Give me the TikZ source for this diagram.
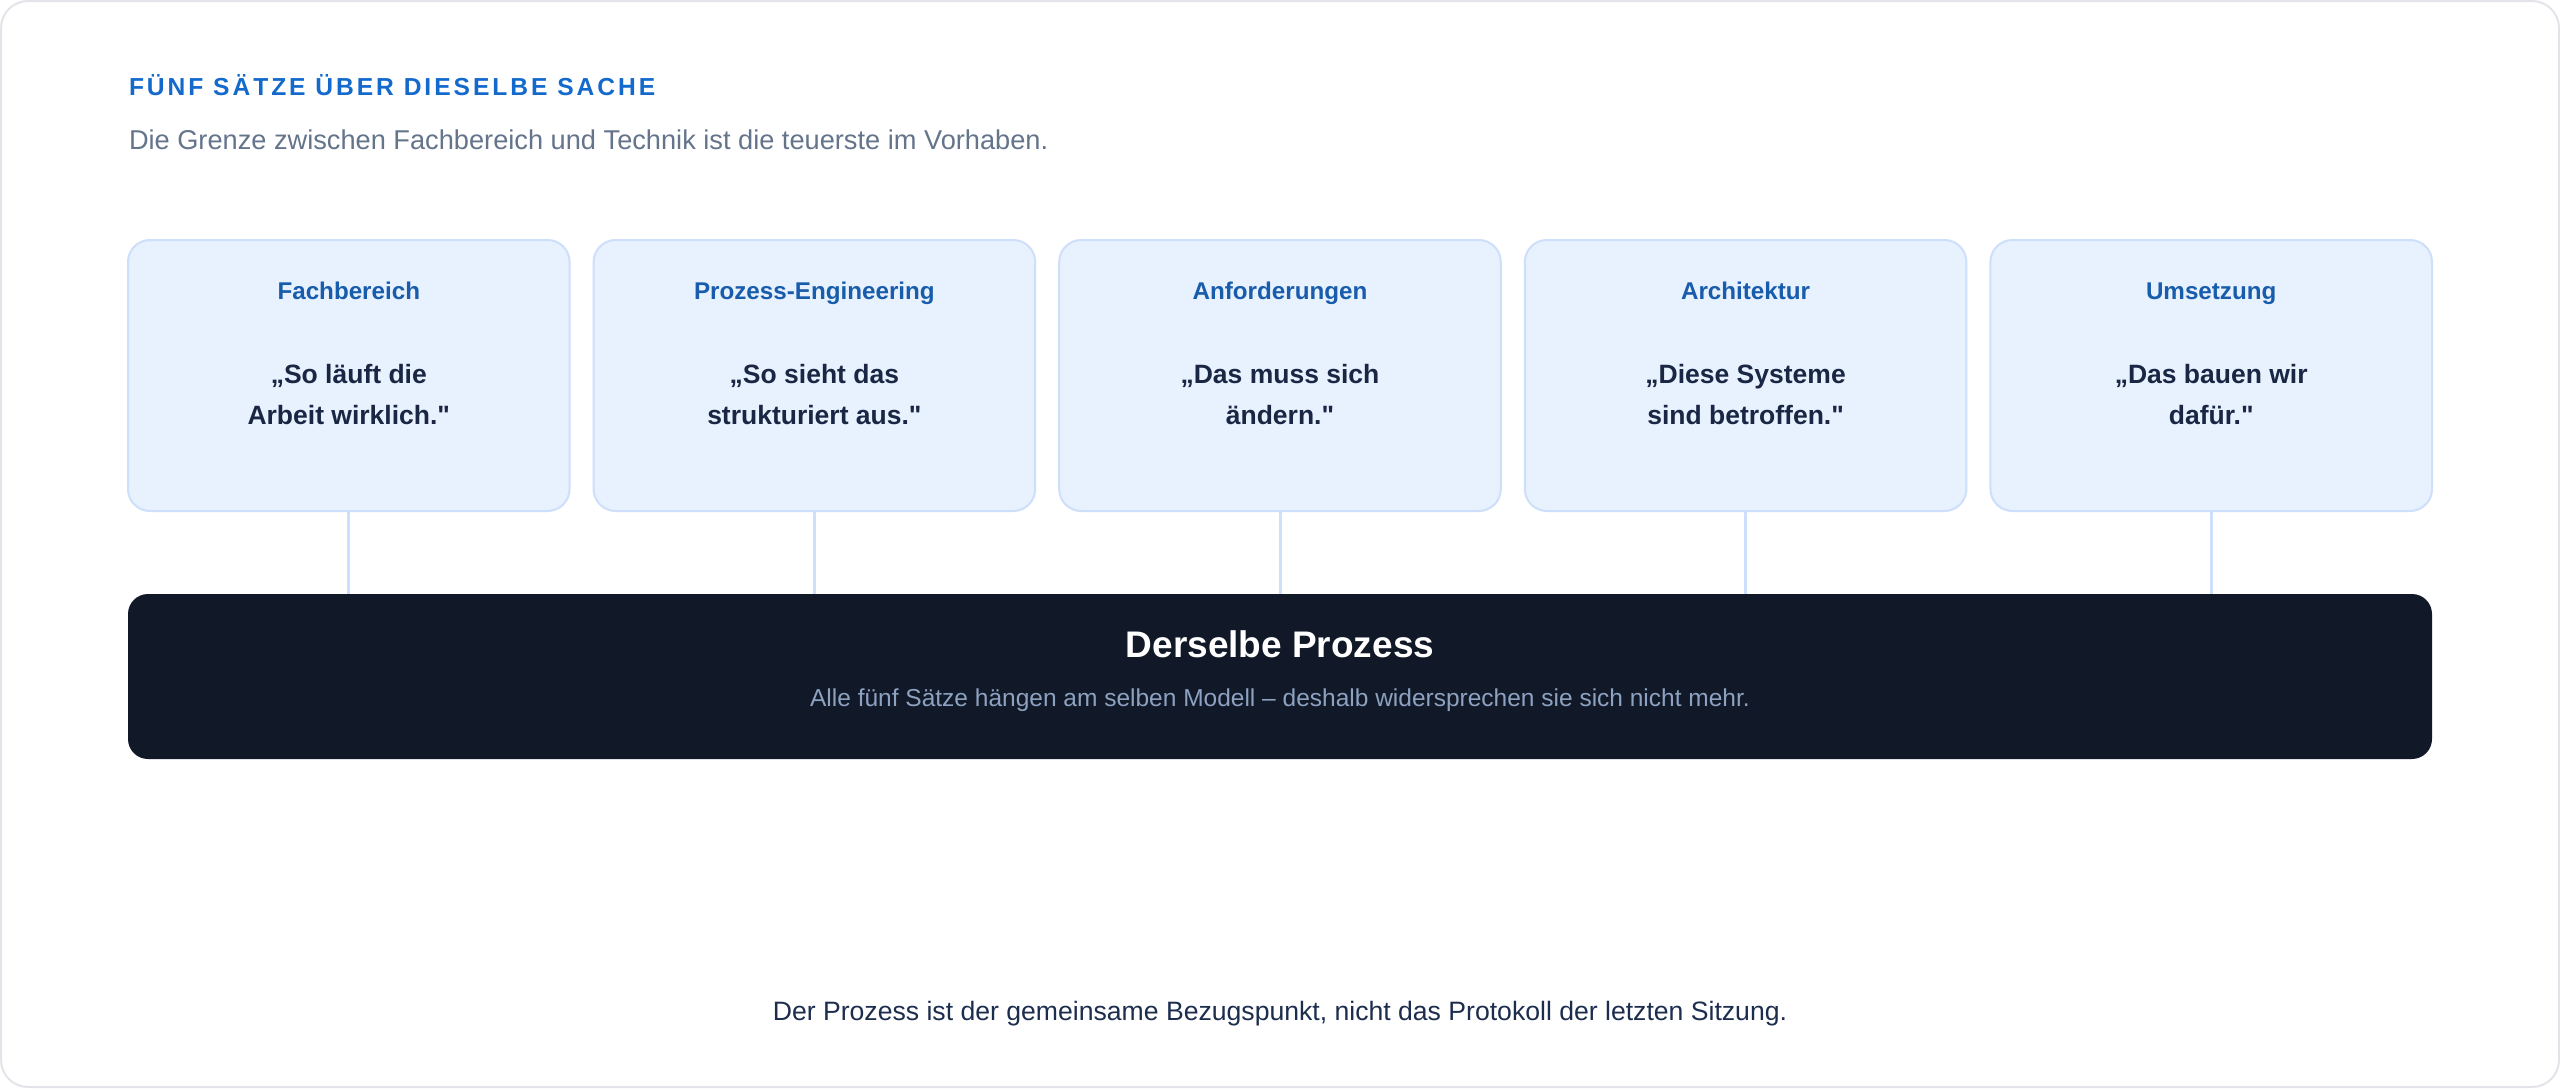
\documentclass[tikz,border=0pt]{standalone}
\usepackage{fontspec}
\setmainfont{Liberation Sans}[Ligatures=TeXOff]
\usetikzlibrary{calc}
\definecolor{framec}{RGB}{226,228,233}
\definecolor{kicker}{RGB}{20,106,204}
\definecolor{subc}{RGB}{100,116,139}
\definecolor{cardfill}{RGB}{232,241,254}
\definecolor{carddraw}{RGB}{205,223,250}
\definecolor{cardtitlec}{RGB}{24,92,172}
\definecolor{quotec}{RGB}{25,39,68}
\definecolor{mainfill}{RGB}{17,24,39}
\definecolor{mainsub}{RGB}{141,162,192}
\definecolor{footc}{RGB}{28,45,78}
\newcommand\qlines[2]{\vtop{\halign{\hfil##\hfil\cr#1\cr#2\cr}}}
\begin{document}
\begin{tikzpicture}[x=1pt,y=-1pt,
  txt/.style={inner sep=0pt,outer sep=0pt,anchor=base},
  cardbox/.style={draw=carddraw,fill=cardfill,line width=2pt,rounded corners=22pt,
    minimum width=441.6pt,minimum height=271pt,inner sep=0pt},
  mainbox/.style={fill=mainfill,rounded corners=20pt,minimum width=2304pt,
    minimum height=165pt,inner sep=0pt},
  conn/.style={draw=carddraw,line width=3pt},
  cardtitle/.style={txt,text=cardtitlec,font=\fontsize{24.2}{29}\selectfont\bfseries},
  quote/.style={txt,text=quotec,font=\fontsize{26.5}{41}\selectfont\bfseries}]
\useasboundingbox (0,0) rectangle (2560,1088);
\draw[draw=framec,fill=white,line width=2pt,rounded corners=27pt] (1,1) rectangle (2559,1087);

\node[txt,anchor=base west,text=kicker,
  font=\fontsize{24.6}{29}\selectfont\bfseries\addfontfeature{LetterSpace=12}]
  (kick) at (129,95.7) {FÜNF SÄTZE ÜBER DIESELBE SACHE};
\node[txt,anchor=base west,text=subc,font=\fontsize{27.2}{32}\selectfont]
  (sub) at (129,149) {Die Grenze zwischen Fachbereich und Technik ist die teuerste im Vorhaben.};

\node[cardbox] (b1) at (348.8,375.5) {};
\node[cardbox] (b2) at (814.4,375.5) {};
\node[cardbox] (b3) at (1280,375.5) {};
\node[cardbox] (b4) at (1745.6,375.5) {};
\node[cardbox] (b5) at (2211.2,375.5) {};

\node[mainbox] (m) at (1280,676.5) {};

\foreach \b in {b1,b2,b3,b4,b5}{
  \draw[conn] (\b.south) -- (\b.south |- m.north);
}

\node[cardtitle] (t1) at ($(b1.north)+(0,60.7)$) {Fachbereich};
\node[cardtitle] (t2) at ($(b2.north)+(0,60.7)$) {Prozess-Engineering};
\node[cardtitle] (t3) at ($(b3.north)+(0,60.7)$) {Anforderungen};
\node[cardtitle] (t4) at ($(b4.north)+(0,60.7)$) {Architektur};
\node[cardtitle] (t5) at ($(b5.north)+(0,60.7)$) {Umsetzung};

\node[quote] (q1) at ($(b1.north)+(0,144)$) {\qlines{„So läuft die}{Arbeit wirklich."}};
\node[quote] (q2) at ($(b2.north)+(0,144)$) {\qlines{„So sieht das}{strukturiert aus."}};
\node[quote] (q3) at ($(b3.north)+(0,144)$) {\qlines{„Das muss sich}{ändern."}};
\node[quote] (q4) at ($(b4.north)+(0,144)$) {\qlines{„Diese Systeme}{sind betroffen."}};
\node[quote] (q5) at ($(b5.north)+(0,144)$) {\qlines{„Das bauen wir}{dafür."}};

\node[txt,text=white,font=\fontsize{37}{44}\selectfont\bfseries] (mt) at (1280,657.7) {Derselbe Prozess};
\node[txt,text=mainsub,font=\fontsize{24.5}{30}\selectfont] (ms) at (1280,706.7)
  {Alle fünf Sätze hängen am selben Modell – deshalb widersprechen sie sich nicht mehr.};

\node[txt,text=footc,font=\fontsize{26.6}{32}\selectfont] (foot) at (1280,1020)
  {Der Prozess ist der gemeinsame Bezugspunkt, nicht das Protokoll der letzten Sitzung.};
\end{tikzpicture}
\end{document}
